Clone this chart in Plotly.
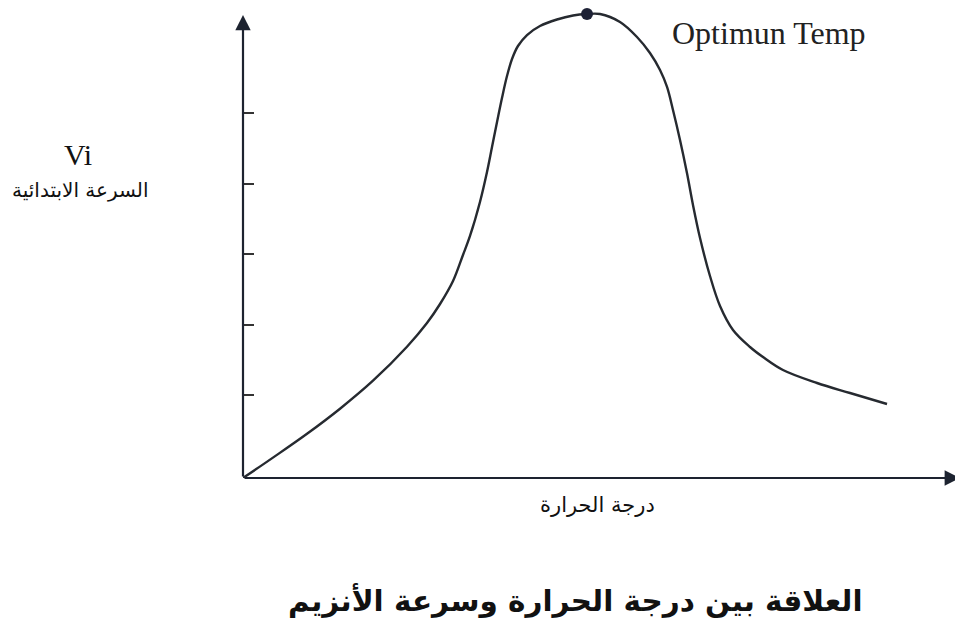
import plotly.graph_objects as go

# Curve (temperature vs initial rate, arbitrary units)
temp = [0, 4.18, 8.93, 13.53, 18.13, 22.87, 25.66, 27.48, 29.29, 30.68, 31.66, 33.05,
        34.03, 34.73, 35.43, 36.12, 36.82, 37.52, 38.35, 39.61, 41.42, 43.79, 46.03,
        47.98, 49.79, 52.58, 54.95, 56.76, 58.16, 59.14, 59.97, 60.95, 61.92, 62.76,
        63.74, 65.13, 66.53, 68.34, 70.71, 72.52, 75.31, 80.06, 84.66, 89.82]
rate = [0, 4.29, 9.31, 14.59, 20.48, 27.64, 32.63, 36.63, 41.47, 46.95, 50.95, 58.11,
        64.42, 69.68, 74.95, 80.00, 84.63, 88.21, 90.95, 93.26, 95.16, 96.53, 97.37,
        97.68, 97.68, 96.00, 92.84, 89.47, 85.89, 82.32, 77.47, 71.16, 64.21, 57.47,
        50.53, 42.53, 36.21, 31.16, 27.58, 25.47, 22.74, 20.00, 17.89, 15.58]
opt_temp = [47.98]
opt_rate = [97.68]
y_ticks = [17.5, 32.3, 47.2, 62.0, 76.9]

x_axis_end = 100
y_axis_end = 97.5

fig = go.Figure()
fig.add_trace(go.Scatter(x=temp, y=rate, mode="lines",
                         line=dict(color="#262a30", width=2.4, shape="spline", smoothing=1.0),
                         hoverinfo="skip", showlegend=False, cliponaxis=False))
fig.add_trace(go.Scatter(x=opt_temp, y=opt_rate, mode="markers", marker=dict(color="#1e2236", size=12),
                         showlegend=False, cliponaxis=False))

serif = "Liberation Serif"
arab = "DejaVu Sans"


def label(x, y, text, family, size, xanchor="center", color="#111"):
    return dict(x=x, y=y, xref="paper", yref="paper", text=text, showarrow=False,
                xanchor=xanchor, yanchor="middle", font=dict(family=family, size=size, color=color))


fig.update_layout(
    width=955, height=635,
    margin=dict(l=235, r=3, t=0, b=165),
    paper_bgcolor="white", plot_bgcolor="white",
    xaxis=dict(range=[0, 100], showgrid=False, zeroline=False, showline=False, showticklabels=False, ticks=""),
    yaxis=dict(range=[0, 98.95], showgrid=False, zeroline=False, showline=False, showticklabels=False,
               ticks="inside", tickvals=y_ticks, ticklen=11, tickwidth=2, tickcolor="#333"),
    annotations=[
        dict(x=x_axis_end, y=0, ax=0, ay=0, xref="x", yref="y", axref="x", ayref="y", text="", showarrow=True,
             arrowhead=2, arrowsize=1.4, arrowwidth=2.2, arrowcolor="#1d2330"),
        dict(x=0, y=y_axis_end, ax=0, ay=0, xref="x", yref="y", axref="x", ayref="y", text="", showarrow=True,
             arrowhead=2, arrowsize=1.4, arrowwidth=2.2, arrowcolor="#1d2330"),
        label(-0.230, 0.689, "Vi", serif, 30),
        label(-0.2273, 0.613, "السرعة الابتدائية", arab, 20),
        label(0.495, -0.0574, "درجة الحرارة", arab, 21),
        label(0.4644, -0.2596, "<b>العلاقة بين درجة الحرارة وسرعة الأنزيم</b>", arab, 29.5),
        label(0.5955, 0.947, "Optimun Temp", serif, 32, xanchor="left", color="#222"),
    ],
)

fig.write_html("out.html")
